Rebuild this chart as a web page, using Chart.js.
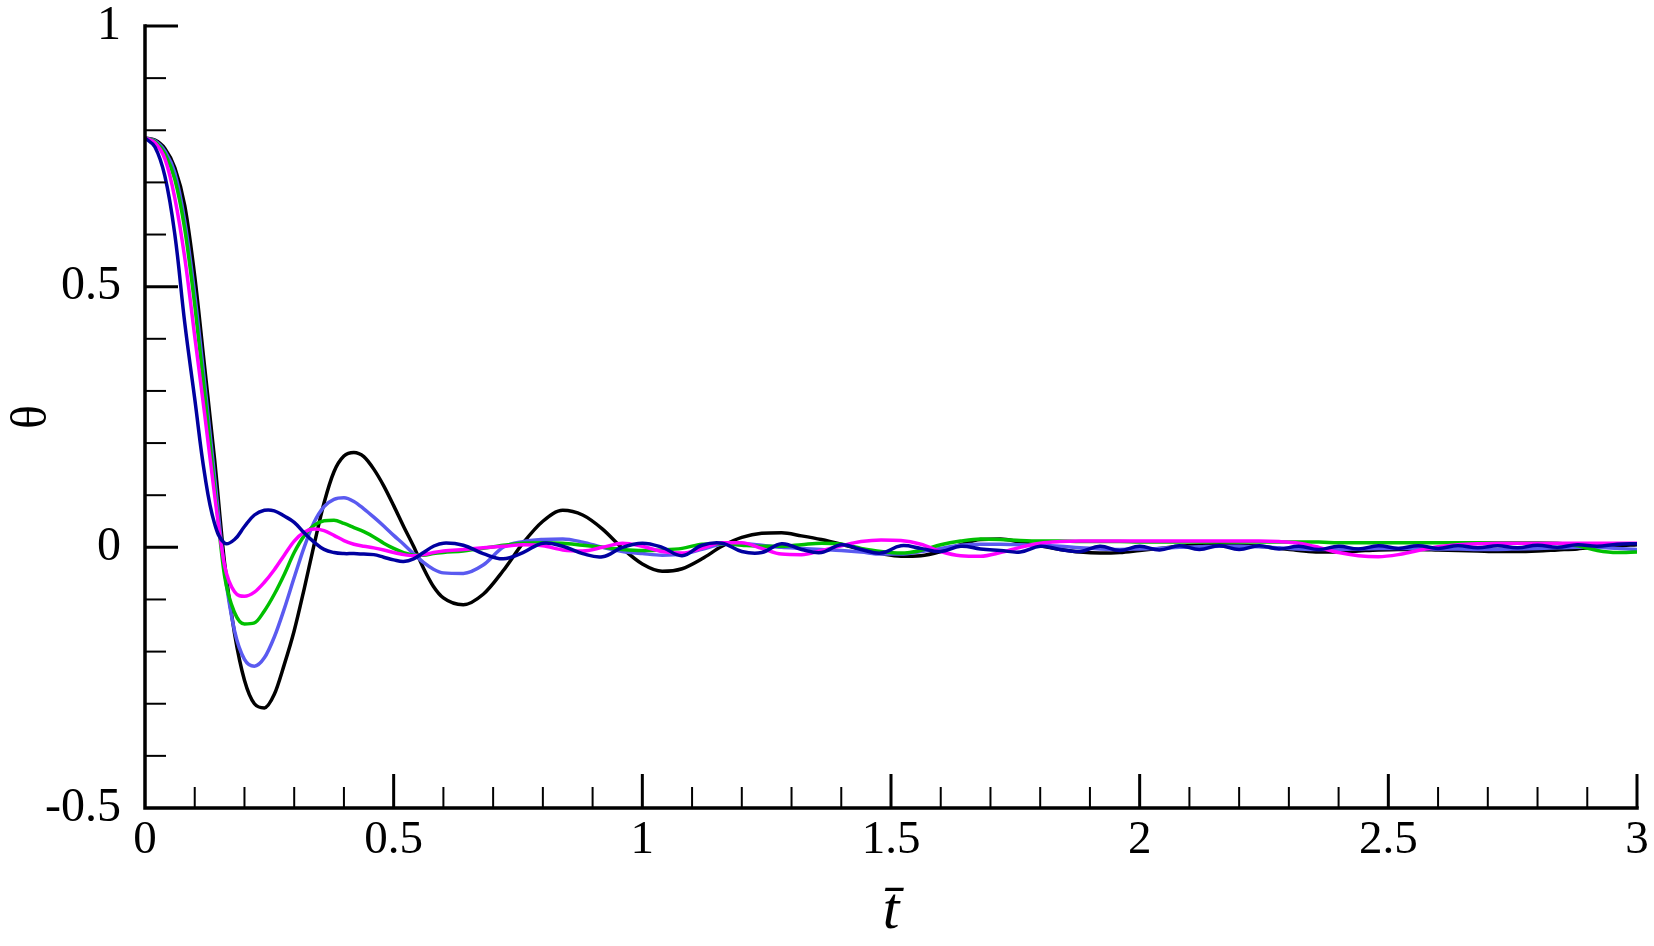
<!DOCTYPE html>
<html>
<head>
<meta charset="utf-8">
<script src="https://cdn.jsdelivr.net/npm/chart.js@4.4.1/dist/chart.umd.min.js"></script>
<style>
  html, body { margin: 0; padding: 0; background: #fff; }
</style>
</head>
<body>
<canvas id="thetaChart" width="1654" height="946"></canvas>
<script>
// time (t bar), fine steps over the first drop, coarser afterwards
const timeSteps = [
  0, 0.02, 0.04, 0.06, 0.08, 0.10, 0.12, 0.14, 0.16, 0.18, 0.20, 0.22, 0.24, 0.26, 0.28, 0.30,
  0.32, 0.34, 0.36, 0.38, 0.40, 0.42, 0.44, 0.46, 0.48, 0.50, 0.52, 0.54, 0.56, 0.58, 0.60,
  0.64, 0.68, 0.72, 0.76, 0.80, 0.84, 0.88, 0.92, 0.96, 1.00,
  1.04, 1.08, 1.12, 1.16, 1.20, 1.24, 1.28, 1.32, 1.36, 1.40,
  1.44, 1.48, 1.52, 1.56, 1.60, 1.64, 1.68, 1.72, 1.76, 1.80,
  1.84, 1.88, 1.92, 1.96, 2.00, 2.04, 2.08, 2.12, 2.16, 2.20,
  2.24, 2.28, 2.32, 2.36, 2.40, 2.44, 2.48, 2.52, 2.56, 2.60,
  2.64, 2.68, 2.72, 2.76, 2.80, 2.84, 2.88, 2.92, 2.96, 3.00
];

const thetaBlack = [
  0.785, 0.781, 0.765, 0.728, 0.655, 0.520, 0.345, 0.168, -0.030, -0.165, -0.255, -0.300, -0.308, -0.282, -0.225, -0.160,
  -0.080, 0.005, 0.085, 0.145, 0.175, 0.182, 0.174, 0.150, 0.118, 0.080, 0.040, 0.002, -0.040, -0.075, -0.097,
  -0.110, -0.090, -0.045, 0.008, 0.050, 0.071, 0.062, 0.035, -0.002, -0.032,
  -0.046, -0.041, -0.022, 0.002, 0.019, 0.027, 0.028, 0.022, 0.015, 0.006,
  -0.004, -0.012, -0.017, -0.016, -0.008, 0.005, 0.015, 0.016, 0.010, 0.003,
  -0.004, -0.009, -0.011, -0.010, -0.006, -0.002, 0.002, 0.004, 0.005, 0.004,
  0.002, -0.002, -0.006, -0.009, -0.009, -0.007, -0.005, -0.004, -0.004, -0.005,
  -0.006, -0.007, -0.008, -0.008, -0.007, -0.005, -0.003, 0.000, 0.003, 0.005
];

const thetaViolet = [
  0.785, 0.780, 0.760, 0.718, 0.625, 0.485, 0.315, 0.135, -0.045, -0.160, -0.215, -0.228, -0.212, -0.172, -0.118, -0.058,
  0.000, 0.048, 0.078, 0.092, 0.095, 0.088, 0.074, 0.058, 0.041, 0.023, 0.006, -0.012, -0.029, -0.042, -0.049,
  -0.050, -0.034, 0.000, 0.011, 0.015, 0.016, 0.010, 0.000, -0.008, -0.012,
  -0.015, -0.013, -0.004, 0.006, 0.007, 0.004, 0.000, -0.002, -0.004, -0.006,
  -0.009, -0.013, -0.013, -0.008, -0.002, 0.004, 0.006, 0.006, 0.005, 0.004,
  0.002, -0.001, -0.003, -0.004, -0.003, -0.002, 0.000, 0.001, 0.002, 0.002,
  0.001, -0.001, -0.003, -0.004, -0.004, -0.003, -0.002, -0.002, -0.002, -0.003,
  -0.003, -0.004, -0.004, -0.003, -0.002, -0.001, 0.000, 0.000, -0.002, -0.004
];

const thetaGreen = [
  0.785, 0.778, 0.755, 0.706, 0.610, 0.465, 0.295, 0.115, -0.055, -0.125, -0.147, -0.145, -0.122, -0.090, -0.052, -0.010,
  0.022, 0.042, 0.051, 0.052, 0.046, 0.038, 0.030, 0.020, 0.008, -0.002, -0.010, -0.015, -0.015, -0.012, -0.010,
  -0.007, -0.002, 0.004, 0.008, 0.009, 0.008, 0.004, 0.000, -0.004, -0.006,
  -0.005, -0.002, 0.006, 0.007, 0.004, 0.002, 0.002, 0.005, 0.008, 0.006,
  -0.002, -0.008, -0.011, -0.006, 0.005, 0.012, 0.016, 0.015, 0.013, 0.012,
  0.012, 0.011, 0.011, 0.011, 0.010, 0.010, 0.010, 0.010, 0.010, 0.010,
  0.010, 0.010, 0.010, 0.010, 0.009, 0.009, 0.009, 0.009, 0.009, 0.009,
  0.009, 0.009, 0.009, 0.009, 0.009, 0.008, 0.003, -0.006, -0.010, -0.009
];

const thetaMagenta = [
  0.785, 0.776, 0.745, 0.670, 0.555, 0.405, 0.255, 0.100, -0.035, -0.085, -0.094, -0.086, -0.067, -0.043, -0.015, 0.012,
  0.029, 0.035, 0.032, 0.023, 0.013, 0.006, 0.002, -0.001, -0.005, -0.010, -0.014, -0.016, -0.014, -0.010, -0.007,
  -0.004, -0.001, 0.002, 0.005, 0.003, -0.005, -0.007, 0.000, 0.008, 0.002,
  -0.008, -0.011, -0.002, 0.009, 0.009, -0.002, -0.013, -0.014, -0.006, 0.003,
  0.011, 0.014, 0.013, 0.006, -0.008, -0.016, -0.017, -0.010, 0.000, 0.008,
  0.011, 0.012, 0.012, 0.012, 0.012, 0.012, 0.012, 0.012, 0.012, 0.012,
  0.012, 0.011, 0.008, 0.000, -0.010, -0.016, -0.018, -0.014, -0.006, 0.001,
  0.005, 0.007, 0.008, 0.008, 0.008, 0.008, 0.008, 0.008, 0.008, 0.008
];

const thetaNavy = [
  0.785, 0.768, 0.712, 0.600, 0.430, 0.285, 0.140, 0.045, 0.008, 0.015, 0.040, 0.062, 0.071, 0.070, 0.060, 0.048,
  0.028, 0.010, -0.004, -0.010, -0.012, -0.012, -0.013, -0.014, -0.019, -0.024, -0.027, -0.022, -0.010, 0.002, 0.008,
  0.004, -0.012, -0.022, -0.010, 0.008, 0.002, -0.012, -0.018, 0.000, 0.008,
  0.000, -0.016, 0.004, 0.008, -0.008, -0.010, 0.007, -0.004, -0.010, 0.005,
  -0.004, -0.011, 0.003, -0.002, -0.008, 0.002, -0.003, -0.006, -0.009, 0.002,
  -0.004, -0.008, 0.002, -0.006, 0.002, -0.005, 0.003, -0.004, 0.003, -0.004,
  0.003, -0.003, 0.002, -0.004, 0.002, -0.003, 0.003, -0.002, 0.003, -0.002,
  0.003, -0.001, 0.003, -0.001, 0.004, 0.000, 0.005, 0.002, 0.006, 0.007
];

const xTickValues = [0, 0.5, 1, 1.5, 2, 2.5, 3];
const yTickValues = [-0.5, 0, 0.5, 1];

function toPoints(values) {
  return values.map((v, i) => ({x: timeSteps[i], y: v}));
}

// inward ticks + axis lines, like the tecplot style of the original
const axisFrame = {
  id: 'axisFrame',
  afterDatasetsDraw(chart) {
    const {ctx, scales: {x, y}} = chart;
    const x0 = x.getPixelForValue(0), x1 = x.getPixelForValue(3);
    const y0 = y.getPixelForValue(-0.5), y1 = y.getPixelForValue(1);
    ctx.save();
    ctx.strokeStyle = '#000';
    ctx.lineCap = 'butt';
    for (let k = 1; k < 30; k++) {
      const major = k % 5 === 0;
      const px = x.getPixelForValue(k / 10);
      ctx.lineWidth = major ? 3 : 2;
      ctx.beginPath();
      ctx.moveTo(px, y0);
      ctx.lineTo(px, y0 - (major ? 34 : 21));
      ctx.stroke();
    }
    ctx.lineWidth = 3;
    ctx.beginPath();
    ctx.moveTo(x1, y0);
    ctx.lineTo(x1, y0 - 34);
    ctx.stroke();
    for (let k = -4; k <= 10; k++) {
      const major = k % 5 === 0;
      const py = y.getPixelForValue(k / 10);
      ctx.lineWidth = major ? 3 : 2;
      ctx.beginPath();
      ctx.moveTo(x0, py);
      ctx.lineTo(x0 + (major ? 33 : 21), py);
      ctx.stroke();
    }
    ctx.lineWidth = 3.5;
    ctx.lineCap = 'square';
    ctx.beginPath();
    ctx.moveTo(x0, y1);
    ctx.lineTo(x0, y0);
    ctx.lineTo(x1, y0);
    ctx.stroke();
    ctx.restore();
  }
};

const serif = 'Liberation Serif';

const ctx = document.getElementById('thetaChart');
new Chart(ctx, {
  type: 'line',
  data: {
    datasets: [
      {data: toPoints(thetaNavy), borderColor: '#0000a0', cubicInterpolationMode: 'default', tension: 0.4},
      {data: toPoints(thetaMagenta), borderColor: '#ff00ff'},
      {data: toPoints(thetaGreen), borderColor: '#00c000'},
      {data: toPoints(thetaViolet), borderColor: '#5a5af0'},
      {data: toPoints(thetaBlack), borderColor: '#000000'}
    ]
  },
  options: {
    responsive: false,
    animation: false,
    parsing: false,
    layout: {padding: {top: 26, right: 17, left: 0, bottom: 0}},
    elements: {
      point: {radius: 0},
      line: {borderWidth: 3.5, cubicInterpolationMode: 'monotone', fill: false}
    },
    plugins: {legend: {display: false}, tooltip: {enabled: false}},
    scales: {
      x: {
        type: 'linear',
        min: 0,
        max: 3,
        afterBuildTicks: s => { s.ticks = xTickValues.map(v => ({value: v})); },
        afterFit: s => { s.height = 138; s.paddingLeft = 0; s.paddingRight = 0; },
        grid: {display: false, drawTicks: false},
        border: {display: false},
        ticks: {
          padding: 9,
          color: '#000',
          maxRotation: 0,
          autoSkip: false,
          font: {family: serif, size: 47, lineHeight: 1},
          callback: v => String(v)
        },
        title: {
          display: true,
          text: 't\u0304',
          color: '#000',
          font: {family: serif, size: 60, style: 'italic', lineHeight: 1},
          padding: {top: 0, bottom: 4}
        }
      },
      y: {
        type: 'linear',
        min: -0.5,
        max: 1,
        afterBuildTicks: s => { s.ticks = yTickValues.map(v => ({value: v})); },
        afterFit: s => { s.width = 145; s.paddingTop = 0; s.paddingBottom = 0; },
        grid: {display: false, drawTicks: false},
        border: {display: false},
        ticks: {
          padding: 24,
          color: '#000',
          autoSkip: false,
          font: {family: serif, size: 48, lineHeight: 1},
          callback: v => String(v)
        },
        title: {
          display: true,
          text: '\u03b8',
          color: '#000',
          font: {family: serif, size: 50, lineHeight: 1},
          padding: {top: 8, bottom: 0}
        }
      }
    }
  },
  plugins: [axisFrame]
});
</script>
</body>
</html>
